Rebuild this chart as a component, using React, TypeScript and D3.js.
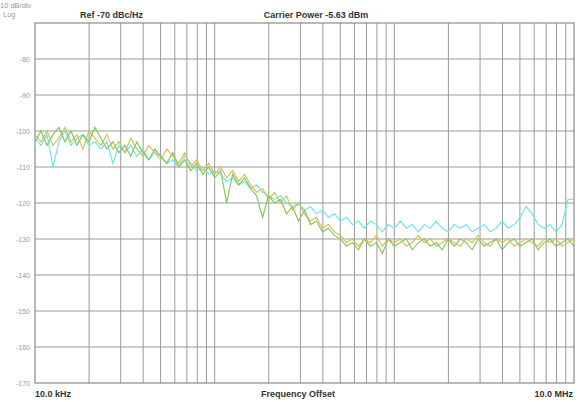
import React, { useEffect } from "react";
import * as d3 from "d3";

// sweep: 91 bins, log spaced from 10 kHz to 10 MHz
const startHz = 1e4;
const stopHz = 1e7;
const binCount = 91;

const yellowTrace = [
  -101, -103, -100, -104, -102, -99, -103, -101, -105, -100, -102,
  -104, -101, -105, -103, -106, -102, -105, -107, -104, -106,
  -108, -105, -107, -109, -106, -110, -108, -111, -109, -112,
  -110, -113, -111, -114, -112, -115, -117, -116, -119, -117,
  -120, -118, -122, -120, -123, -125, -124, -127, -126, -128,
  -129, -131, -130, -132, -130, -131, -129, -132, -130, -131,
  -130, -132, -131, -129, -131, -130, -132, -131, -130, -131,
  -132, -130, -131, -129, -131, -132, -130, -131, -130, -132,
  -131, -130, -131, -132, -130, -131, -130, -132, -131, -130,
];

const greenTrace = [
  -103, -100, -104, -101, -99, -103, -100, -104, -101, -103, -99,
  -102, -105, -103, -106, -104, -107, -103, -106, -108, -105,
  -107, -109, -106, -110, -108, -111, -109, -112, -110, -113,
  -111, -120, -112, -115, -113, -116, -118, -124, -118, -120,
  -119, -123, -121, -125, -122, -126, -125, -128, -127, -129,
  -130, -132, -131, -133, -130, -132, -131, -134, -130, -132,
  -131, -130, -133, -131, -130, -132, -131, -133, -130, -132,
  -130, -131, -133, -130, -132, -131, -130, -133, -131, -130,
  -132, -131, -130, -133, -131, -130, -132, -131, -130, -132,
];

const cyanTrace = [
  -102, -104, -101, -110, -103, -100, -104, -102, -101, -104, -103,
  -105, -103, -109, -104, -106, -104, -107, -105, -108, -106,
  -107, -109, -108, -110, -107, -109, -111, -110, -112, -111,
  -112, -114, -113, -115, -114, -116, -115, -117, -118, -119,
  -118, -120, -121, -120, -122, -121, -123, -122, -124, -123,
  -125, -124, -126, -125, -127, -125, -126, -128, -126, -127,
  -125, -127, -126, -128, -126, -127, -125, -127, -128, -126,
  -127, -126, -128, -127, -126, -128, -127, -125, -127, -126,
  -124, -121, -123, -126, -127, -126, -128, -126, -119, -119,
];

const yTicks = [-80, -90, -100, -110, -120, -130, -140, -150, -160, -170];

const traces = [
  { name: "cyan", values: cyanTrace, color: "#6fe6f0" },
  { name: "yellow", values: yellowTrace, color: "#d9bf5a" },
  { name: "green", values: greenTrace, color: "#86c85e" },
];

const width = 579;
const height = 402;
const margin = { top: 23, right: 5, bottom: 19, left: 35 };

const App = () => {
  useEffect(() => {
    document.body.style.margin = "0";
  }, []);

  const x = d3
    .scaleLog()
    .domain([startHz, stopHz])
    .range([margin.left, width - margin.right]);
  const y = d3
    .scaleLinear()
    .domain([-70, -170])
    .range([margin.top, height - margin.bottom]);

  const freqs = d3
    .range(binCount)
    .map((i) => startHz * Math.pow(stopHz / startHz, i / (binCount - 1)));

  // every 1..9 line in each decade
  const vLines = x.ticks(30).filter((f) => f > startHz && f < stopHz);

  const line = d3
    .line<number>()
    .x((d, i) => x(freqs[i]))
    .y((d) => y(d));

  return (
    <svg width={width} height={height} style={{ display: "block", fontFamily: "Liberation Sans, Arial, sans-serif" }}>
      <rect width={width} height={height} fill="#fff" />
      {yTicks.slice(0, -1).map((t) => (
        <line key={t} x1={margin.left} x2={width - margin.right} y1={y(t)} y2={y(t)} stroke="#9a9a9a" strokeWidth={1} />
      ))}
      {vLines.map((f, i) => (
        <line key={i} x1={x(f)} x2={x(f)} y1={margin.top} y2={height - margin.bottom} stroke="#9a9a9a" strokeWidth={1} />
      ))}
      <rect
        x={margin.left}
        y={margin.top}
        width={width - margin.left - margin.right}
        height={height - margin.top - margin.bottom}
        fill="none"
        stroke="#8a8a8a"
        strokeWidth={1.2}
      />
      {traces.map((t) => (
        <path key={t.name} d={line(t.values) || ""} fill="none" stroke={t.color} strokeWidth={1.2} />
      ))}
      {yTicks.map((t) => (
        <text key={t} x={30} y={y(t) + 2.5} fontSize={7} fill="#999" textAnchor="end">
          {t}
        </text>
      ))}
      <text x={0} y={8} fontSize={7.5} fill="#999">10 dB/div</text>
      <text x={3} y={17} fontSize={7.5} fill="#999">Log</text>
      <text x={80} y={18} fontSize={9} fill="#333" fontWeight="bold">Ref -70 dBc/Hz</text>
      <text x={316} y={18} fontSize={9} fill="#333" fontWeight="bold" textAnchor="middle">Carrier Power -5.63 dBm</text>
      <text x={35} y={397} fontSize={9} fill="#333" fontWeight="bold">10.0 kHz</text>
      <text x={298} y={397} fontSize={9} fill="#333" fontWeight="bold" textAnchor="middle">Frequency Offset</text>
      <text x={573} y={397} fontSize={9} fill="#333" fontWeight="bold" textAnchor="end">10.0 MHz</text>
    </svg>
  );
};

export default App;
